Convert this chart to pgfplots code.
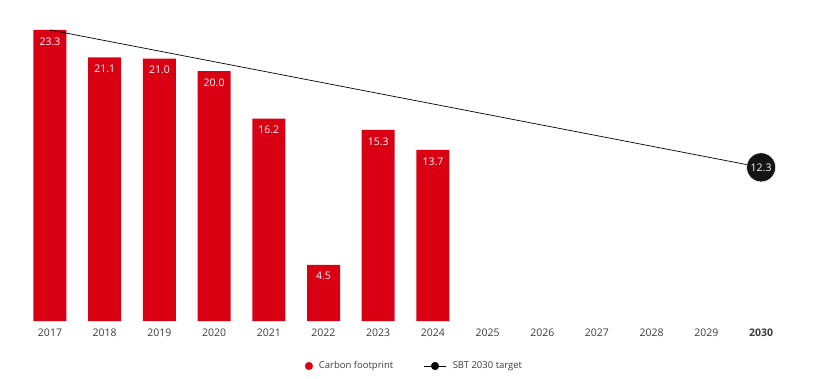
\documentclass[border=0pt]{standalone}
\usepackage{pgfplots}
\pgfplotsset{compat=1.18}
\usepackage{fontspec}
\setmainfont{Open Sans}
\definecolor{cfred}{RGB}{218,0,20}
\definecolor{txtgrey}{RGB}{60,60,60}
\definecolor{circblack}{RGB}{20,20,20}
\begin{document}
\begin{tikzpicture}
\begin{axis}[
  scale only axis,
  width=829pt, height=321pt,
  xmin=2016.086, xmax=2031.241,
  ymin=0, ymax=25.70,
  axis line style={draw=none},
  ytick=\empty,
  xtick={2017,...,2030},
  xticklabels={2017,2018,2019,2020,2021,2022,2023,2024,2025,2026,2027,2028,2029,\textbf{2030}},
  major tick length=0pt,
  xticklabel style={font=\fontsize{10.5}{12}\selectfont, text=txtgrey, yshift=-4pt},
  /pgf/number format/assume math mode=true,
  clip=false,
  legend columns=2,
  legend style={draw=none, fill=none, at={(axis description cs:0.5,0)}, anchor=center, yshift=-45pt,
    font=\fontsize{9.5}{11}\selectfont, text=txtgrey,
    /tikz/every odd column/.append style={column sep=4pt},
    /tikz/every even column/.append style={column sep=28pt}},
  legend image code/.code={\draw[#1] (0cm,0cm) -- (0.8cm,0cm);},
]
\addplot[ybar, bar width=33pt, fill=cfred, draw=none, forget plot,
  nodes near coords,
  nodes near coords style={anchor=north, text=white, yshift=-4pt, font=\fontsize{10.5}{12}\selectfont,
     /pgf/number format/.cd, fixed, fixed zerofill, precision=1, assume math mode=true}]
  coordinates {(2017,23.3) (2018,21.1) (2019,21.0) (2020,20.0) (2021,16.2) (2022,4.5) (2023,15.3) (2024,13.7)};
\addplot[black, line width=0.7pt, mark=none, forget plot] coordinates {(2017,23.3) (2030,12.3)};
\addplot[only marks, mark=*, mark size=14.5pt, mark options={fill=circblack, draw=white, line width=0.5pt}, forget plot,
  nodes near coords,
  nodes near coords style={anchor=center, text=white, font=\fontsize{10.5}{12}\selectfont,
     /pgf/number format/.cd, fixed, fixed zerofill, precision=1, assume math mode=true}]
  coordinates {(2030,12.3)};
\addlegendimage{legend image code/.code={\fill[cfred] (0.45cm,0cm) circle (3.8pt);}}
\addlegendentry{Carbon footprint}
\addlegendimage{legend image code/.code={\draw[black, line width=0.7pt] (0cm,0cm) -- (0.8cm,0cm); \fill[black] (0.4cm,0cm) circle (3.8pt);}}
\addlegendentry{SBT 2030 target}
\end{axis}
\pgfresetboundingbox
\useasboundingbox (0pt,-57pt) rectangle (829pt,321pt);
\end{tikzpicture}
\end{document}
